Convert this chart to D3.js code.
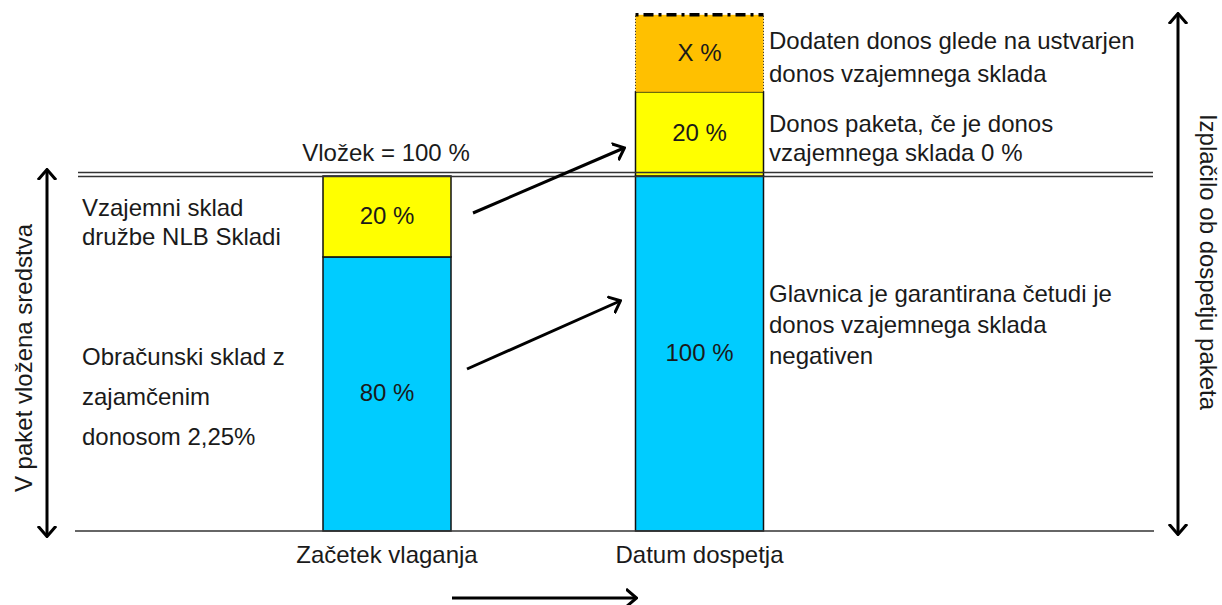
<!DOCTYPE html>
<html>
<head>
<meta charset="utf-8">
<script src="https://cdn.jsdelivr.net/npm/d3@7"></script>
<style>
  body { margin: 0; background: #fff; }
  text { font-family: "Liberation Sans", Arial, sans-serif; font-size: 24px; fill: #1a1a1a; }
</style>
</head>
<body>
<svg id="chart" width="1222" height="605"></svg>
<script>
// --- data ---
var stages = ["Začetek vlaganja", "Datum dospetja"];
// segment bounds on the y scale, 100 = vložek (diagram is not drawn strictly to scale)
var startLevels = [0, 77.2, 100];
var startLabels = ["80 %", "20 %"];
var endLevels = [0, 100, 123.7, 145.4];
var endLabels = ["100 %", "20 %", "X %"];
var investLabel = "Vložek = 100 %";
var leftNotesTop = ["Vzajemni sklad", "družbe NLB Skladi"];
var leftNotesBottom = ["Obračunski sklad z", "zajamčenim", "donosom 2,25%"];
var rightNotesTop = ["Dodaten donos glede na ustvarjen", "donos vzajemnega sklada"];
var rightNotesMid = ["Donos paketa, če je donos", "vzajemnega sklada 0 %"];
var rightNotesBottom = ["Glavnica je garantirana četudi je", "donos vzajemnega sklada", "negativen"];
var leftAxisTitle = "V paket vložena sredstva";
var rightAxisTitle = "Izplačilo ob dospetju paketa";

var colors = ["#00CCFF", "#FFFF00", "#FFC000"];

function buildChart()
{
var svg = d3.select("#chart")
var barW = 128

var xScale = d3.scalePoint()
    .domain(stages)
    .range([387, 699.5])

var yScale = d3.scaleLinear()
    .domain([0, 100])
    .range([531, 176])

// arrow head
var defs = svg.append("defs")
defs.append("marker")
    .attr("id", "head")
    .attr("viewBox", "0 -10 12 20")
    .attr("refX", 10).attr("refY", 0)
    .attr("markerWidth", 12).attr("markerHeight", 20)
    .attr("markerUnits", "userSpaceOnUse")
    .attr("orient", "auto-start-reverse")
  .append("path")
    .attr("d", "M0,-9 L10.5,0 L0,9")
    .attr("fill", "none")
    .attr("stroke", "#000")
    .attr("stroke-width", 3)

// bars
function drawBar(stage, levels, labels)
{
  var x0 = xScale(stage) - barW / 2
  var segs = d3.range(levels.length - 1).map(function(i) {
      return {lo: levels[i], hi: levels[i + 1], label: labels[i], color: colors[i], top: i == 2}
  })
  var g = svg.append("g")
  g.selectAll("rect").data(segs).enter().append("rect")
      .attr("x", x0)
      .attr("width", barW)
      .attr("y", function(d) { return yScale(d.hi) })
      .attr("height", function(d) { return yScale(d.lo) - yScale(d.hi) })
      .attr("fill", function(d) { return d.color })
      .attr("stroke", function(d) { return d.top ? "none" : "#111" })
      .attr("stroke-width", 1.5)
  segs.filter(function(d) { return d.top }).forEach(function(d) {
      // dotted sides + dash-dot top for the uncertain part
      g.append("path")
          .attr("d", "M" + x0 + "," + yScale(d.lo) + "V" + yScale(d.hi) + "M" + (x0 + barW) + "," + yScale(d.lo) + "V" + yScale(d.hi))
          .attr("stroke", "#222").attr("stroke-width", 1).attr("stroke-dasharray", "1,2").attr("fill", "none")
      g.append("line")
          .attr("x1", x0).attr("x2", x0 + barW)
          .attr("y1", yScale(d.hi)).attr("y2", yScale(d.hi))
          .attr("stroke", "#000").attr("stroke-width", 3.5)
          .attr("stroke-dasharray", "3,5,10,5")
  })
  g.selectAll("text").data(segs).enter().append("text")
      .attr("x", xScale(stage))
      .attr("y", function(d) { return (yScale(d.lo) + yScale(d.hi)) / 2 + 7.5 })
      .attr("text-anchor", "middle")
      .text(function(d) { return d.label })
}
drawBar(stages[0], startLevels, startLabels)
drawBar(stages[1], endLevels, endLabels)

// base line and double "100 %" line
svg.append("line")
    .attr("x1", 75).attr("x2", 1154)
    .attr("y1", yScale(0)).attr("y2", yScale(0))
    .attr("stroke", "#333").attr("stroke-width", 1.5)
;[-3.5, 0.5].forEach(function(off) {
  svg.append("line")
      .attr("x1", 78).attr("x2", 1153)
      .attr("y1", yScale(100) + off).attr("y2", yScale(100) + off)
      .attr("stroke", "#333").attr("stroke-width", 1.3)
})

// x labels
svg.selectAll(".xlab").data(stages).enter().append("text")
    .attr("class", "xlab")
    .attr("x", function(d) { return xScale(d) })
    .attr("y", 563)
    .attr("text-anchor", "middle")
    .text(function(d) { return d })

svg.append("text")
    .attr("x", xScale(stages[0]) - 1).attr("y", 161)
    .attr("text-anchor", "middle")
    .text(investLabel)

// text notes
function notes(lines, x, y0, dy)
{
  svg.append("g").selectAll("text").data(lines).enter().append("text")
      .attr("x", x)
      .attr("y", function(d, i) { return y0 + i * dy })
      .text(function(d) { return d })
}
notes(leftNotesTop, 82, 216, 29)
notes(leftNotesBottom, 82, 365, 40)
notes(rightNotesTop, 769, 49, 33)
notes(rightNotesMid, 769, 132, 29)
notes(rightNotesBottom, 769, 302, 31)

// arrows
function arrow(x1, y1, x2, y2, both)
{
  svg.append("line")
      .attr("x1", x1).attr("y1", y1).attr("x2", x2).attr("y2", y2)
      .attr("stroke", "#000").attr("stroke-width", 3)
      .attr("marker-end", "url(#head)")
      .attr("marker-start", both ? "url(#head)" : null)
}
arrow(473, 213, 624, 148)
arrow(467, 369, 620, 301)
arrow(452, 598, 636, 598)
arrow(47, 170, 47, 536, true)
arrow(1178, 14, 1178, 534, true)

// axis titles
svg.append("text")
    .attr("transform", "translate(32,358) rotate(-90)")
    .attr("text-anchor", "middle")
    .text(leftAxisTitle)
svg.append("text")
    .attr("transform", "translate(1200,262) rotate(90)")
    .attr("text-anchor", "middle")
    .text(rightAxisTitle)
}

buildChart()
</script>
</body>
</html>
